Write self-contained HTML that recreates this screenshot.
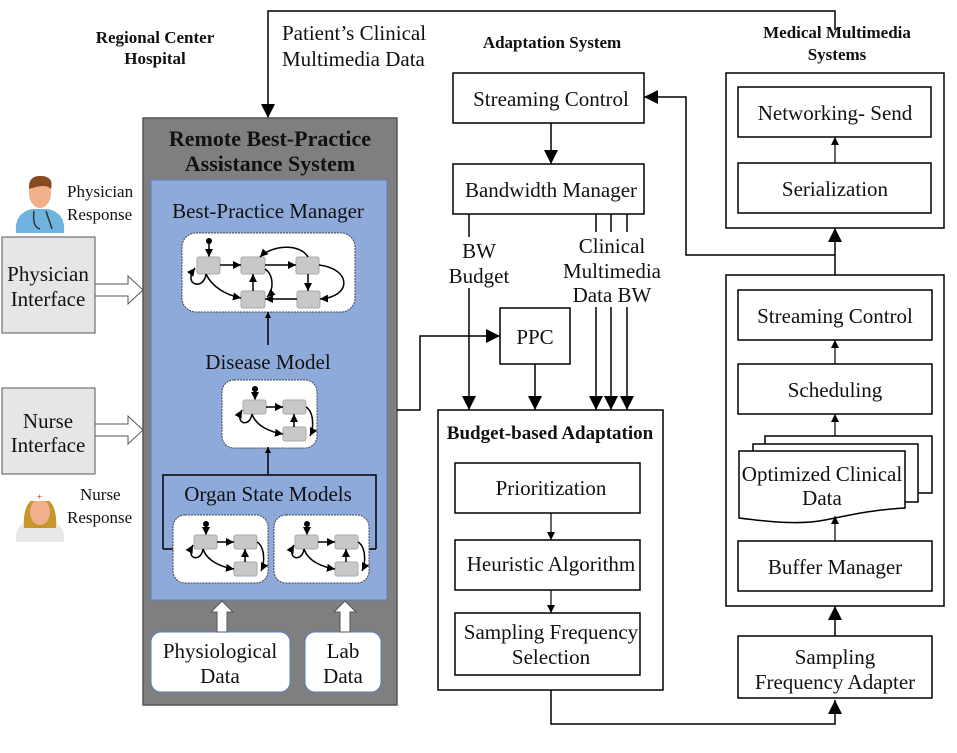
<!DOCTYPE html>
<html><head><meta charset="utf-8"><style>
body{margin:0;background:#fff}
svg{display:block}
text{font-family:"Liberation Serif",serif;fill:#111}
.t{font-size:21px}
.b{font-size:17px;font-weight:bold}
</style></head><body>
<svg width="957" height="753" viewBox="0 0 957 753" xmlns="http://www.w3.org/2000/svg">
<defs>
<marker id="a" viewBox="0 0 10 10" refX="10" refY="5" markerWidth="6" markerHeight="6" orient="auto-start-reverse" markerUnits="userSpaceOnUse"><path d="M0,0L10,5L0,10z" fill="#000"/></marker>
<marker id="A" viewBox="0 0 10 10" refX="10" refY="5" markerWidth="14" markerHeight="14" orient="auto" markerUnits="userSpaceOnUse"><path d="M0,0L10,5L0,10z" fill="#000"/></marker>
<marker id="s" viewBox="0 0 10 10" refX="10" refY="5" markerWidth="8" markerHeight="8" orient="auto" markerUnits="userSpaceOnUse"><path d="M0,0L10,5L0,10z" fill="#000"/></marker>
<g id="org">
<rect x="0" y="0" width="95" height="68" rx="12" fill="#fff" stroke="#444" stroke-dasharray="2,1"/>
<circle cx="33" cy="9" r="3" fill="#000"/>
<line x1="33" y1="9" x2="33" y2="20" stroke="#000" stroke-width="1.5" marker-end="url(#s)"/>
<rect x="21" y="20" width="23" height="14" rx="2" fill="#c8c8c8" stroke="#aaa"/>
<rect x="61" y="20" width="23" height="14" rx="2" fill="#c8c8c8" stroke="#aaa"/>
<rect x="61" y="47" width="23" height="14" rx="2" fill="#c8c8c8" stroke="#aaa"/>
<line x1="44" y1="27" x2="61" y2="27" stroke="#000" stroke-width="1.5" marker-end="url(#s)"/>
<line x1="72" y1="47" x2="72" y2="34" stroke="#000" stroke-width="1.5" marker-end="url(#s)"/>
<path d="M30,34 C28,48 12,44 20,30" fill="none" stroke="#000" stroke-width="1.5" marker-end="url(#s)"/>
<path d="M30,34 C34,46 48,52 61,54" fill="none" stroke="#000" stroke-width="1.5" marker-end="url(#s)"/>
<path d="M84,27 C92,32 92,48 88,56" fill="none" stroke="#000" stroke-width="1.5" marker-end="url(#s)"/>
</g>
</defs>

<polyline points="835,30 835,11 268,11 268,118" fill="none" stroke="#000" stroke-width="1.5" marker-end="url(#A)"/>

<text class="b" x="155" y="43" text-anchor="middle">Regional Center</text>
<text class="b" x="155" y="64" text-anchor="middle">Hospital</text>
<text class="t" x="282" y="40">Patient’s Clinical</text>
<text class="t" x="282" y="66">Multimedia Data</text>
<text class="b" x="552" y="48" text-anchor="middle">Adaptation System</text>
<text class="b" x="837" y="38" text-anchor="middle">Medical Multimedia</text>
<text class="b" x="837" y="60" text-anchor="middle">Systems</text>

<rect x="143" y="118" width="254" height="587" fill="#7f7f7f" stroke="#555" stroke-width="1.5"/>
<text x="270" y="146" text-anchor="middle" style="font-size:22px;font-weight:bold">Remote Best-Practice</text>
<text x="270" y="171" text-anchor="middle" style="font-size:22px;font-weight:bold">Assistance System</text>
<rect x="151" y="180" width="236" height="420" fill="#8eaadb" stroke="#5b7fc0"/>
<text class="t" x="268" y="218" text-anchor="middle">Best-Practice Manager</text>

<g transform="translate(182,233)">
<rect x="0" y="0" width="173" height="79" rx="14" fill="#fff" stroke="#444" stroke-dasharray="2,1"/>
<circle cx="27" cy="8" r="3" fill="#000"/>
<line x1="27" y1="8" x2="27" y2="24" stroke="#000" stroke-width="1.5" marker-end="url(#s)"/>
<rect x="15" y="24" width="23" height="17" rx="2" fill="#c8c8c8" stroke="#aaa"/>
<rect x="59" y="24" width="24" height="17" rx="2" fill="#c8c8c8" stroke="#aaa"/>
<rect x="114" y="24" width="23" height="17" rx="2" fill="#c8c8c8" stroke="#aaa"/>
<rect x="59" y="58" width="24" height="17" rx="2" fill="#c8c8c8" stroke="#aaa"/>
<rect x="115" y="58" width="23" height="17" rx="2" fill="#c8c8c8" stroke="#aaa"/>
<line x1="38" y1="32" x2="59" y2="32" stroke="#000" stroke-width="1.5" marker-end="url(#s)"/>
<line x1="83" y1="32" x2="114" y2="32" stroke="#000" stroke-width="1.5" marker-end="url(#s)"/>
<line x1="71" y1="58" x2="71" y2="41" stroke="#000" stroke-width="1.5" marker-end="url(#s)"/>
<line x1="126" y1="41" x2="126" y2="58" stroke="#000" stroke-width="1.5" marker-end="url(#s)"/>
<line x1="115" y1="66" x2="83" y2="66" stroke="#000" stroke-width="1.5" marker-end="url(#s)"/>
<path d="M24,41 C22,58 0,52 13,35" fill="none" stroke="#000" stroke-width="1.5" marker-end="url(#s)"/>
<path d="M24,41 C30,54 44,62 59,65" fill="none" stroke="#000" stroke-width="1.5" marker-end="url(#s)"/>
<path d="M126,24 C118,10 90,12 78,24" fill="none" stroke="#000" stroke-width="1.5" marker-end="url(#s)"/>
<path d="M83,36 C92,42 92,58 85,64" fill="none" stroke="#000" stroke-width="1.5" marker-end="url(#s)"/>
<path d="M137,32 C170,36 170,64 138,66" fill="none" stroke="#000" stroke-width="1.5" marker-end="url(#s)"/>
</g>
<line x1="268" y1="345" x2="268" y2="312" stroke="#000" stroke-width="1.5" marker-end="url(#a)"/>
<text class="t" x="268" y="369" text-anchor="middle">Disease Model</text>
<g transform="translate(222,380)"><use href="#org"/></g>
<line x1="268" y1="475" x2="268" y2="447" stroke="#000" stroke-width="1.5" marker-end="url(#a)"/>
<polyline points="163,549 163,475 376,475 376,549" fill="none" stroke="#000" stroke-width="1.5"/>
<line x1="163" y1="549" x2="173" y2="549" stroke="#000" stroke-width="1.5"/>
<line x1="368" y1="549" x2="376" y2="549" stroke="#000" stroke-width="1.5"/>
<text class="t" x="268" y="501" text-anchor="middle">Organ State Models</text>
<g transform="translate(173,515)"><use href="#org"/></g>
<g transform="translate(274,515)"><use href="#org"/></g>

<rect x="151" y="632" width="139" height="60" rx="10" fill="#fff" stroke="#5b7fc0"/>
<text class="t" x="220" y="658" text-anchor="middle">Physiological</text>
<text class="t" x="220" y="683" text-anchor="middle">Data</text>
<rect x="305" y="632" width="76" height="60" rx="10" fill="#fff" stroke="#5b7fc0"/>
<text class="t" x="343" y="658" text-anchor="middle">Lab</text>
<text class="t" x="343" y="683" text-anchor="middle">Data</text>
<path d="M217,632 V612 H211 L222,601 L233,612 H227 V632 Z" fill="#fff" stroke="#555"/>
<path d="M340,632 V612 H334 L345,601 L356,612 H350 V632 Z" fill="#fff" stroke="#555"/>

<g transform="translate(40,205)">
<path d="M-24,28 Q-26,8 -8,4 L8,4 Q26,8 24,28 Z" fill="#6fb3e0"/>
<ellipse cx="0" cy="-12" rx="11" ry="15" fill="#f0b08a"/>
<path d="M-11,-16 Q-12,-30 2,-29 Q14,-28 11,-16 Q6,-22 -11,-16Z" fill="#8a4a20"/>
<path d="M-6,6 Q-8,22 0,24 M6,6 Q10,18 12,24" fill="none" stroke="#333" stroke-width="1.5"/>
</g>
<text x="67" y="197" style="font-size:17px">Physician</text>
<text x="67" y="220" style="font-size:17px">Response</text>
<rect x="2" y="237" width="93" height="96" fill="#e6e6e6" stroke="#555"/>
<text class="t" x="48" y="281" text-anchor="middle">Physician</text>
<text class="t" x="48" y="306" text-anchor="middle">Interface</text>
<path d="M95,284 H128 V276 L143,290 L128,304 V296 H95 Z" fill="#fff" stroke="#555"/>
<rect x="2" y="388" width="93" height="86" fill="#e6e6e6" stroke="#555"/>
<text class="t" x="48" y="428" text-anchor="middle">Nurse</text>
<text class="t" x="48" y="452" text-anchor="middle">Interface</text>
<path d="M95,424 H128 V416 L143,430 L128,444 V436 H95 Z" fill="#fff" stroke="#555"/>
<g transform="translate(40,520)">
<path d="M-24,22 Q-26,4 -8,0 L8,0 Q26,4 24,22 Z" fill="#e8e8e8"/>
<path d="M-16,8 Q-18,-20 0,-24 Q18,-20 16,8Z" fill="#c8952e"/>
<ellipse cx="0" cy="-8" rx="10" ry="13" fill="#f0b08a"/>
<rect x="-11" y="-28" width="22" height="9" rx="3" fill="#fff"/>
<text x="-3" y="-20" style="font-size:9px;fill:#d00">+</text>
</g>
<text x="80" y="500" style="font-size:17px">Nurse</text>
<text x="67" y="523" style="font-size:17px">Response</text>

<rect x="453" y="73" width="191" height="50" fill="#fff" stroke="#000" stroke-width="1.5"/>
<text class="t" x="551" y="106" text-anchor="middle">Streaming Control</text>
<line x1="551" y1="123" x2="551" y2="164" stroke="#000" stroke-width="1.5" marker-end="url(#A)"/>
<rect x="453" y="164" width="191" height="50" fill="#fff" stroke="#000" stroke-width="1.5"/>
<text class="t" x="551" y="197" text-anchor="middle">Bandwidth Manager</text>
<line x1="469" y1="214" x2="469" y2="237" stroke="#000" stroke-width="1.5"/>
<text class="t" x="479" y="258" text-anchor="middle">BW</text>
<text class="t" x="479" y="283" text-anchor="middle">Budget</text>
<line x1="469" y1="288" x2="469" y2="410" stroke="#000" stroke-width="1.5" marker-end="url(#A)"/>
<g stroke="#000" stroke-width="1.5">
<line x1="596" y1="214" x2="596" y2="232"/><line x1="611" y1="214" x2="611" y2="232"/><line x1="627" y1="214" x2="627" y2="232"/>
<line x1="596" y1="307" x2="596" y2="410" marker-end="url(#A)"/><line x1="611" y1="307" x2="611" y2="410" marker-end="url(#A)"/><line x1="627" y1="307" x2="627" y2="410" marker-end="url(#A)"/>
</g>
<text class="t" x="612" y="253" text-anchor="middle">Clinical</text>
<text class="t" x="612" y="278" text-anchor="middle">Multimedia</text>
<text class="t" x="612" y="302" text-anchor="middle">Data BW</text>
<rect x="500" y="308" width="70" height="56" fill="#fff" stroke="#000" stroke-width="1.5"/>
<text class="t" x="535" y="344" text-anchor="middle">PPC</text>
<line x1="535" y1="364" x2="535" y2="410" stroke="#000" stroke-width="1.5" marker-end="url(#A)"/>
<polyline points="397,410 420,410 420,336 500,336" fill="none" stroke="#000" stroke-width="1.5" marker-end="url(#A)"/>

<rect x="438" y="410" width="225" height="280" fill="#fff" stroke="#000" stroke-width="1.5"/>
<text x="550" y="439" text-anchor="middle" style="font-size:19px;font-weight:bold">Budget-based Adaptation</text>
<rect x="455" y="463" width="185" height="50" fill="#fff" stroke="#000" stroke-width="1.5"/>
<text class="t" x="551" y="495" text-anchor="middle">Prioritization</text>
<line x1="551" y1="513" x2="551" y2="540" stroke="#000" stroke-width="1.2" marker-end="url(#s)"/>
<rect x="455" y="540" width="185" height="50" fill="#fff" stroke="#000" stroke-width="1.5"/>
<text class="t" x="551" y="571" text-anchor="middle">Heuristic Algorithm</text>
<line x1="551" y1="590" x2="551" y2="613" stroke="#000" stroke-width="1.2" marker-end="url(#s)"/>
<rect x="455" y="613" width="185" height="62" fill="#fff" stroke="#000" stroke-width="1.5"/>
<text class="t" x="551" y="639" text-anchor="middle">Sampling Frequency</text>
<text class="t" x="551" y="664" text-anchor="middle">Selection</text>
<polyline points="551,690 551,724 835,724 835,700" fill="none" stroke="#000" stroke-width="1.5" marker-end="url(#A)"/>

<rect x="726" y="73" width="218" height="155" fill="#fff" stroke="#000" stroke-width="1.5"/>
<rect x="738" y="87" width="193" height="50" fill="#fff" stroke="#000" stroke-width="1.5"/>
<text class="t" x="835" y="120" text-anchor="middle">Networking- Send</text>
<line x1="835" y1="163" x2="835" y2="137" stroke="#000" stroke-width="1.2" marker-end="url(#s)"/>
<rect x="738" y="163" width="193" height="50" fill="#fff" stroke="#000" stroke-width="1.5"/>
<text class="t" x="835" y="196" text-anchor="middle">Serialization</text>
<line x1="835" y1="275" x2="835" y2="228" stroke="#000" stroke-width="1.5" marker-end="url(#A)"/>
<polyline points="835,255 686,255 686,97 644,97" fill="none" stroke="#000" stroke-width="1.5" marker-end="url(#A)"/>

<rect x="726" y="275" width="218" height="331" fill="#fff" stroke="#000" stroke-width="1.5"/>
<rect x="738" y="290" width="194" height="50" fill="#fff" stroke="#000" stroke-width="1.5"/>
<text class="t" x="835" y="323" text-anchor="middle">Streaming Control</text>
<line x1="835" y1="364" x2="835" y2="340" stroke="#000" stroke-width="1.2" marker-end="url(#s)"/>
<rect x="738" y="364" width="194" height="50" fill="#fff" stroke="#000" stroke-width="1.5"/>
<text class="t" x="835" y="397" text-anchor="middle">Scheduling</text>
<line x1="835" y1="437" x2="835" y2="414" stroke="#000" stroke-width="1.2" marker-end="url(#s)"/>
<path d="M765,444 V436 H932 V493 H918" fill="#fff" stroke="#000" stroke-width="1.5"/>
<path d="M753,451 V444 H918 V502 H905" fill="#fff" stroke="#000" stroke-width="1.5"/>
<path d="M739,451 H905 V508 C870,510 850,515 825,520 C800,525 770,522 739,518 Z" fill="#fff" stroke="#000" stroke-width="1.5"/>
<text class="t" x="822" y="481" text-anchor="middle">Optimized Clinical</text>
<text class="t" x="822" y="505" text-anchor="middle">Data</text>
<line x1="835" y1="541" x2="835" y2="516" stroke="#000" stroke-width="1.2" marker-end="url(#s)"/>
<rect x="738" y="541" width="194" height="50" fill="#fff" stroke="#000" stroke-width="1.5"/>
<text class="t" x="835" y="574" text-anchor="middle">Buffer Manager</text>
<line x1="835" y1="636" x2="835" y2="606" stroke="#000" stroke-width="1.5" marker-end="url(#A)"/>
<rect x="738" y="636" width="194" height="62" fill="#fff" stroke="#000" stroke-width="1.5"/>
<text class="t" x="835" y="664" text-anchor="middle">Sampling</text>
<text class="t" x="835" y="689" text-anchor="middle">Frequency Adapter</text>
</svg>
</body></html>
